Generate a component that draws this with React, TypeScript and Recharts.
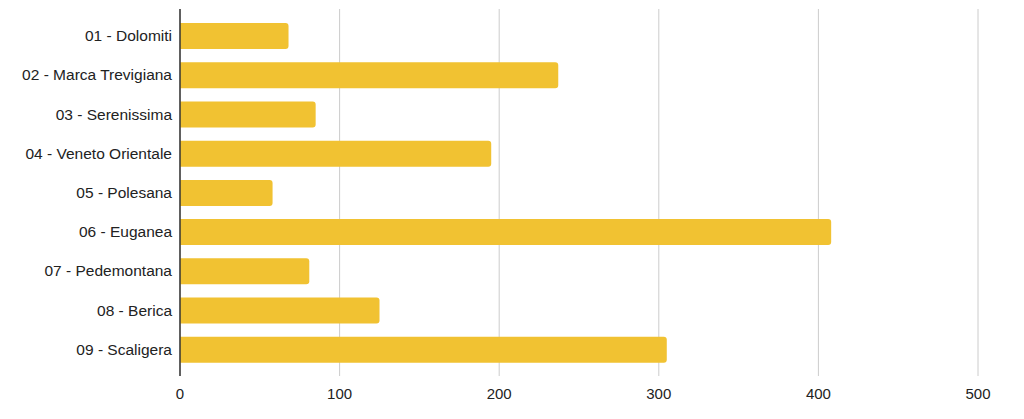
import React from "react";
import { BarChart, Bar, XAxis, YAxis, CartesianGrid } from "recharts";

const categories = [
  "01 - Dolomiti",
  "02 - Marca Trevigiana",
  "03 - Serenissima",
  "04 - Veneto Orientale",
  "05 - Polesana",
  "06 - Euganea",
  "07 - Pedemontana",
  "08 - Berica",
  "09 - Scaligera",
];
const values = [68, 237, 85, 195, 58, 408, 81, 125, 305];
const xTicks = [0, 100, 200, 300, 400, 500];

const data = categories.map((name, i) => ({ name, value: values[i] }));

export default function App() {
  return (
    <div style={{ position: "absolute", left: 0, top: 0, background: "#fff" }}>
      <BarChart
        width={1024}
        height={419}
        data={data}
        layout="vertical"
        margin={{ top: 9, right: 46, bottom: 13, left: 0 }}
        style={{ fontFamily: "'Liberation Sans', Arial, sans-serif" }}
      >
        <CartesianGrid horizontal={false} stroke="#cccccc" strokeWidth={1} />
        <XAxis
          type="number"
          domain={[0, 500]}
          ticks={xTicks}
          axisLine={false}
          tickLine={false}
          tickMargin={6}
          height={30}
          tick={{ fill: "#222", fontSize: 15 }}
        />
        <YAxis
          type="category"
          dataKey="name"
          width={180}
          axisLine={{ stroke: "#333", strokeWidth: 1.5 }}
          tickLine={false}
          padding={{ top: 7, bottom: 7 }}
          tick={{ fill: "#222", fontSize: 15.5 }}
          interval={0}
        />
        <Bar
          dataKey="value"
          fill="#f1c232"
          barSize={26}
          radius={[0, 3, 3, 0]}
          isAnimationActive={false}
        />
      </BarChart>
    </div>
  );
}
